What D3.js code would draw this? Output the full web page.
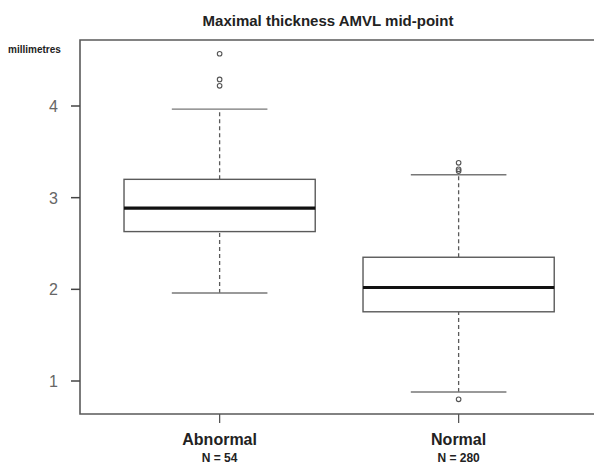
<!DOCTYPE html>
<html>
<head>
<meta charset="utf-8">
<script src="https://cdn.jsdelivr.net/npm/d3@7"></script>
<style>
  body { margin: 0; background: #fff; }
  text { font-family: "Liberation Sans", Arial, sans-serif; }
</style>
</head>
<body>
<div id="chart"></div>
<script>
const groups = ["Abnormal", "Normal"];
const counts = [54, 280];
const whiskerLow = [1.96, 0.88];
const q1 = [2.63, 1.755];
const median = [2.885, 2.02];
const q3 = [3.20, 2.35];
const whiskerHigh = [3.965, 3.25];
const outliers = [[4.57, 4.29, 4.22], [3.38, 3.31, 3.29, 0.80]];
const yTicks = [1, 2, 3, 4];

const width = 594;
const height = 465;
const plot = { left: 80, top: 40, bottom: 414 };

const svg = d3.select("#chart").append("svg")
    .attr("width", width)
    .attr("height", height);

// R-style positions: boxes at 1 and 2, range extended a little
const x = d3.scaleLinear().domain([0.42, 2.58]).range([plot.left + 1, 80 + 2.16 * 239 + 1]);
const y = d3.scaleLinear().domain([0.64, 4.72]).range([plot.bottom, plot.top]);

const boxW = 0.4;
const capW = 0.2;
const lineColor = "#5a5a5a";

svg.append("text")
    .attr("x", 328)
    .attr("y", 26)
    .attr("text-anchor", "middle")
    .attr("font-size", 15)
    .attr("font-weight", "bold")
    .attr("fill", "#222")
    .text("Maximal thickness AMVL mid-point");

// frame (right side runs off the picture)
svg.append("path")
    .attr("d", `M${width + 5},${plot.top}H${plot.left}V${plot.bottom}H${width + 5}`)
    .attr("fill", "none")
    .attr("stroke", lineColor)
    .attr("stroke-width", 1.6);

// y axis ticks
const yAxis = svg.append("g");
yTicks.forEach(t => {
    yAxis.append("line")
        .attr("x1", plot.left - 9).attr("x2", plot.left)
        .attr("y1", y(t)).attr("y2", y(t))
        .attr("stroke", "#444").attr("stroke-width", 1.5);
    yAxis.append("text")
        .attr("x", plot.left - 22)
        .attr("y", y(t) + 6)
        .attr("text-anchor", "end")
        .attr("font-size", 16)
        .attr("fill", "#666")
        .text(t);
});

svg.append("text")
    .attr("x", 8)
    .attr("y", 53)
    .attr("font-size", 10)
    .attr("font-weight", "bold")
    .attr("fill", "#222")
    .text("millimetres");

groups.forEach((g, i) => {
    const cx = x(i + 1);
    const grp = svg.append("g");

    // whiskers
    [[whiskerLow[i], q1[i]], [q3[i], whiskerHigh[i]]].forEach(([a, b]) => {
        grp.append("line")
            .attr("x1", cx).attr("x2", cx)
            .attr("y1", y(a)).attr("y2", y(b))
            .attr("stroke", lineColor)
            .attr("stroke-width", 1.3)
            .attr("stroke-dasharray", "4,3");
    });
    [whiskerLow[i], whiskerHigh[i]].forEach(v => {
        grp.append("line")
            .attr("x1", x(i + 1 - capW)).attr("x2", x(i + 1 + capW))
            .attr("y1", y(v)).attr("y2", y(v))
            .attr("stroke", "#777")
            .attr("stroke-width", 1.3);
    });

    // box
    grp.append("rect")
        .attr("x", x(i + 1 - boxW))
        .attr("y", y(q3[i]))
        .attr("width", x(i + 1 + boxW) - x(i + 1 - boxW))
        .attr("height", y(q1[i]) - y(q3[i]))
        .attr("fill", "#fff")
        .attr("stroke", lineColor)
        .attr("stroke-width", 1.4);

    grp.append("line")
        .attr("x1", x(i + 1 - boxW)).attr("x2", x(i + 1 + boxW))
        .attr("y1", y(median[i])).attr("y2", y(median[i]))
        .attr("stroke", "#111")
        .attr("stroke-width", 3.2);

    // outliers
    grp.selectAll("circle")
        .data(outliers[i])
        .join("circle")
        .attr("cx", cx)
        .attr("cy", d => y(d))
        .attr("r", 2.3)
        .attr("fill", "none")
        .attr("stroke", "#555")
        .attr("stroke-width", 1.1);

    // x tick + labels
    grp.append("line")
        .attr("x1", cx).attr("x2", cx)
        .attr("y1", plot.bottom).attr("y2", plot.bottom + 9)
        .attr("stroke", "#555").attr("stroke-width", 1.3);
    grp.append("text")
        .attr("x", cx)
        .attr("y", 445)
        .attr("text-anchor", "middle")
        .attr("font-size", 16)
        .attr("font-weight", "bold")
        .attr("fill", "#222")
        .text(g);
    grp.append("text")
        .attr("x", cx)
        .attr("y", 462)
        .attr("text-anchor", "middle")
        .attr("font-size", 12)
        .attr("font-weight", "bold")
        .attr("fill", "#222")
        .text(`N = ${counts[i]}`);
});
</script>
</body>
</html>
